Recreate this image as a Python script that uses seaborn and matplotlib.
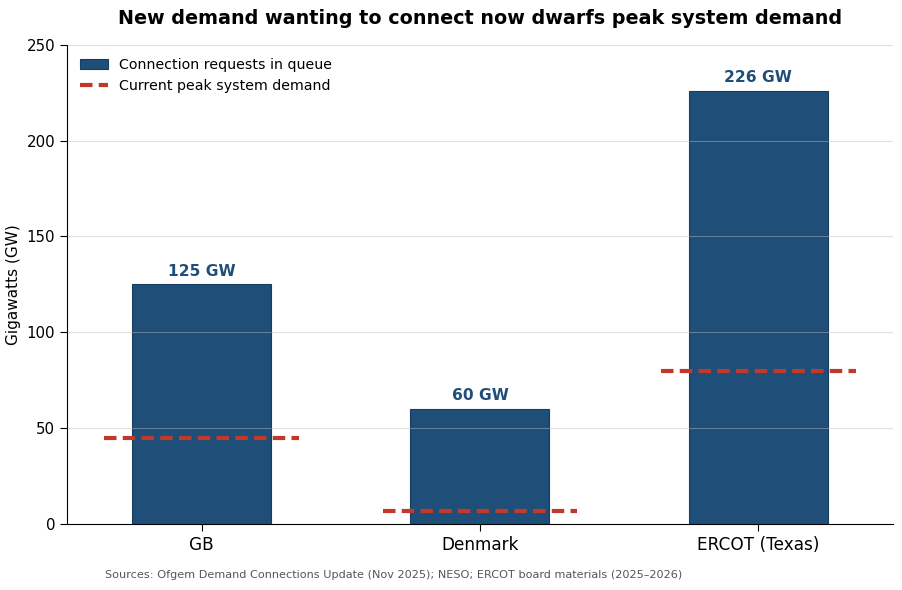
import matplotlib.pyplot as plt
import pandas as pd
import seaborn as sns

regions = ["GB", "Denmark", "ERCOT (Texas)"]
queue_gw = [125, 60, 226]
peak_gw = [45, 7, 80]

bar_color = "#1f4e79"
line_color = "#c0392b"

df = pd.DataFrame({"region": regions, "queue": queue_gw, "peak": peak_gw})

sns.set_style("white")
plt.rcParams['font.family'] = ['DejaVu Sans']
plt.rcParams['text.color'] = 'black'
plt.rcParams['axes.labelcolor'] = 'black'
plt.rcParams['xtick.color'] = 'black'
plt.rcParams['ytick.color'] = 'black'

fig, ax = plt.subplots(figsize=(9.03, 5.9), dpi=100)
fig.subplots_adjust(left=0.074, right=0.989, top=0.924, bottom=0.112)

sns.barplot(data=df, x="region", y="queue", color=bar_color, width=0.5,
            saturation=1, ax=ax, label="Connection requests in queue", zorder=2,
            edgecolor="#173d60", linewidth=0.8)

for i, p in enumerate(peak_gw):
    ax.hlines(p, i - 0.35, i + 0.35, colors=line_color, linestyles=(0, (3, 1.5)),
              linewidth=3, zorder=4,
              label="Current peak system demand" if i == 0 else None)

for i, v in enumerate(queue_gw):
    ax.text(i, v + 3, f"{v} GW", ha="center", va="bottom", fontsize=11.2,
            fontweight="bold", color=bar_color)

ax.set_ylim(0, 250)
ax.set_yticks(range(0, 251, 50))
ax.yaxis.grid(True, color="#bbbbbb", linewidth=0.8, alpha=0.45, zorder=3)
ax.set_axisbelow(False)
ax.xaxis.grid(False)
for s in ["top", "right"]:
    ax.spines[s].set_visible(False)
for s in ["left", "bottom"]:
    ax.spines[s].set_color("black")
ax.tick_params(axis="x", labelsize=12.2, length=5, bottom=True)
ax.tick_params(axis="y", labelsize=10.8, length=5, left=True)
ax.set_xlabel("")
ax.set_ylabel("Gigawatts (GW)", fontsize=11)
ax.set_title("New demand wanting to connect now dwarfs peak system demand",
             fontsize=13.8, fontweight="bold", pad=15)

handles, labels = ax.get_legend_handles_labels()
order = [labels.index("Connection requests in queue"), labels.index("Current peak system demand")]
ax.legend([handles[k] for k in order], [labels[k] for k in order],
          loc="upper left", fontsize=10.2, frameon=False, handlelength=2)

fig.text(0.116, 0.02, "Sources: Ofgem Demand Connections Update (Nov 2025); NESO; ERCOT board materials (2025–2026)",
         fontsize=8.1, color="#555555", ha="left")

fig.savefig("out.png", dpi=100)
